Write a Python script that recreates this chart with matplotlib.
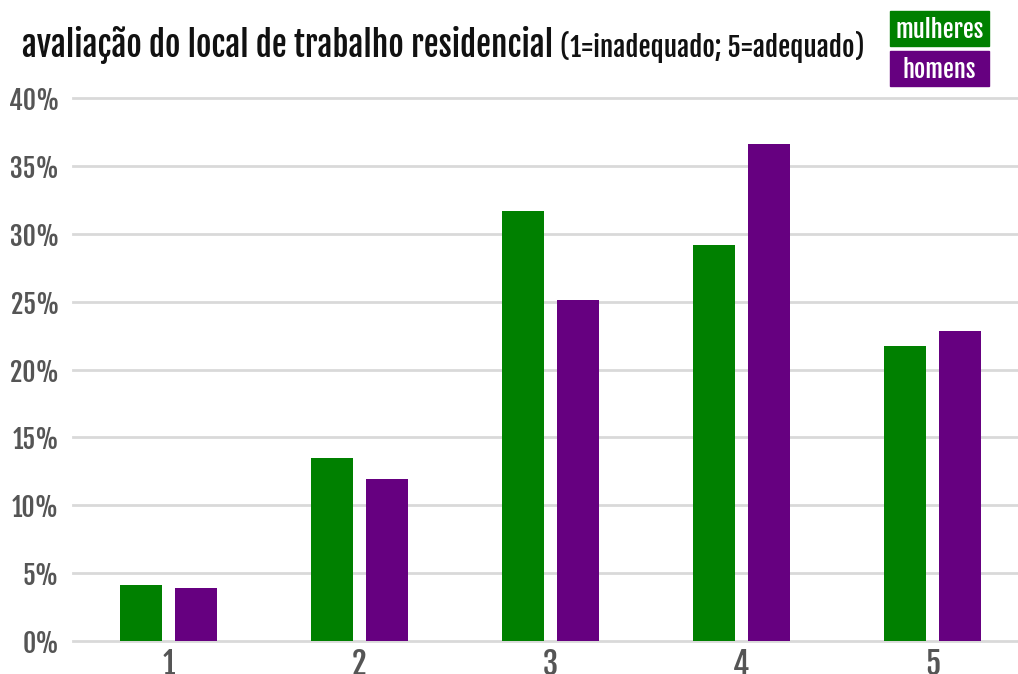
import numpy as np
import matplotlib.pyplot as plt

categorias = ['1', '2', '3', '4', '5']
mulheres = [4.1, 13.5, 31.7, 29.2, 21.7]
homens = [3.9, 11.9, 25.1, 36.6, 22.8]
yticks = [0, 5, 10, 15, 20, 25, 30, 35, 40]

plt.rcParams['font.family'] = ['Fjalla One', 'Oswald', 'DejaVu Sans']

verde = '#008000'
roxo = '#660080'

fig = plt.figure(figsize=(10.18, 6.74), dpi=100)
ax = fig.add_axes([73 / 1018, 33 / 674, 945 / 1018, 543 / 674])

x = np.arange(len(categorias))
w = 0.225
off = 0.144
ax.bar(x - off, mulheres, w, color=verde, zorder=3)
ax.bar(x + off, homens, w, color=roxo, zorder=3)

ax.set_xlim(-0.5, 945 / 191 - 0.5)
ax.set_ylim(0, 40)
ax.set_yticks(yticks)
ax.set_yticklabels([f'{v}%' for v in yticks])
ax.set_xticks(x)
ax.set_xticklabels(categorias)
for yv in yticks:
    ax.axhline(yv, color='#d9d9d9', lw=2, zorder=1, clip_on=False)
for s in ax.spines.values():
    s.set_visible(False)
ax.tick_params(axis='y', length=0, labelsize=18.5, colors='#555555', pad=10)
ax.tick_params(axis='x', length=0, labelsize=22, colors='#555555', pad=5)

fig.text(22 / 1018, 1 - 57 / 674, 'avaliação do local de trabalho residencial',
         fontsize=24, color='#111111', va='baseline')
fig.text(560 / 1018, 1 - 57 / 674, '(1=inadequado; 5=adequado)',
         fontsize=19.5, color='#111111', va='baseline')

# caixas da legenda
for y0, lbl, c in [(11, 'mulheres', verde), (51, 'homens', roxo)]:
    fig.patches.append(plt.Rectangle((890 / 1018, 1 - (y0 + 35) / 674), 99 / 1018, 35 / 674,
                                     transform=fig.transFigure, color=c, zorder=5))
    fig.text(939.5 / 1018, 1 - (y0 + 19) / 674, lbl, ha='center', va='center',
             fontsize=17.5, color='white', zorder=6)

fig.savefig('out.png', dpi=100)
